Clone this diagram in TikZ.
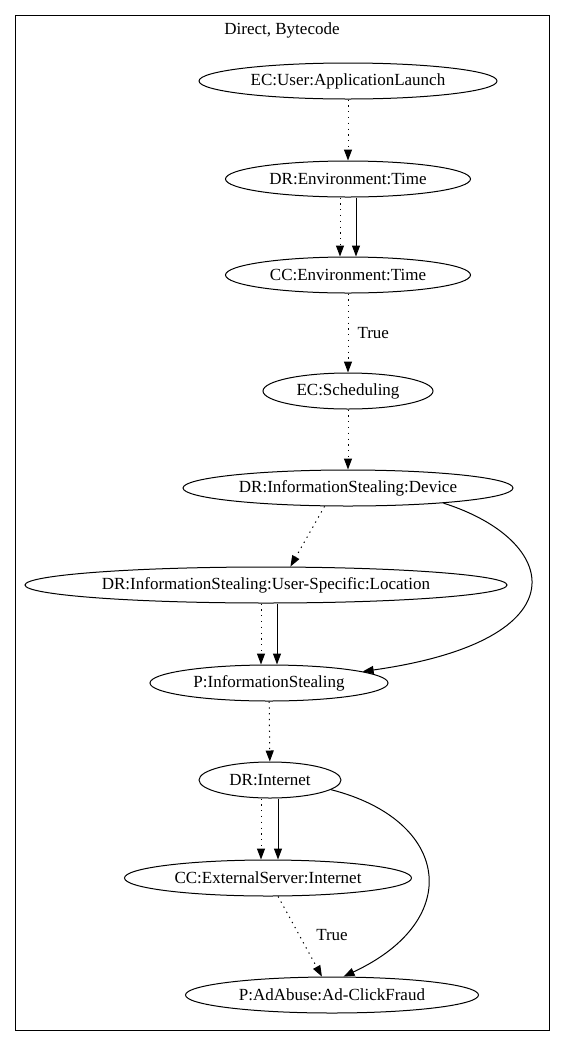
\documentclass[tikz,border=0pt]{standalone}
\usepackage{fontspec}
\setmainfont{Liberation Serif}
\usetikzlibrary{shapes.geometric,arrows.meta}
\tikzset{
  gv/.style={draw, ellipse, inner sep=0pt, minimum height=36pt, line width=1pt, font=\fontsize{17}{19}\selectfont},
  edge/.style={line width=1pt, -{Triangle[length=11pt,width=8pt]}},
  dotedge/.style={edge, dash pattern=on 1.3pt off 4.5pt},
  lbl/.style={font=\fontsize{17}{19}\selectfont, inner sep=0pt}
}
\begin{document}
\begin{tikzpicture}[x=1pt,y=-1pt]
\useasboundingbox (0,0) rectangle (565,1045);
\draw[line width=1pt] (15,15) rectangle (549,1030);
\node[lbl] (title) at (282,30) {Direct, Bytecode};
\node[gv, minimum width=298pt] (n1) at (348,81) {EC:User:ApplicationLaunch};
\node[gv, minimum width=245pt] (n2) at (348,179) {DR:Environment:Time};
\node[gv, minimum width=245pt] (n3) at (348,275) {CC:Environment:Time};
\node[gv, minimum width=170pt] (n4) at (348,391) {EC:Scheduling};
\node[gv, minimum width=330pt] (n5) at (348,488) {DR:InformationStealing:Device};
\node[gv, minimum width=482pt] (n6) at (266,585) {DR:InformationStealing:User-Specific:Location};
\node[gv, minimum width=238pt] (n7) at (269,683) {P:InformationStealing};
\node[gv, minimum width=142pt] (n8) at (270,780) {DR:Internet};
\node[gv, minimum width=287pt] (n9) at (268,878) {CC:ExternalServer:Internet};
\node[gv, minimum width=293pt] (n10) at (332,995) {P:AdAbuse:Ad-ClickFraud};

\draw[dotedge] (n1) -- (n2);
\draw[dotedge] ([xshift=-8pt]n2.south) -- ([xshift=-8pt]n3.north);
\draw[edge] ([xshift=8pt]n2.south) -- ([xshift=8pt]n3.north);
\draw[dotedge] (n3) -- (n4) node[lbl, pos=0.5, right=9pt] (t1) {True};
\draw[dotedge] (n4) -- (n5);
\draw[dotedge] (n5.-142) -- (n6.37);
\draw[edge] (n5.-9) .. controls (560,540) and (585,640) .. (n7.7);
\draw[dotedge] ([xshift=-5pt]n6.south) -- ([xshift=-8pt]n7.north);
\draw[edge] ([xshift=11pt]n6.south) -- ([xshift=8pt]n7.north);
\draw[dotedge] (n7) -- (n8);
\draw[dotedge] ([xshift=-9pt]n8.south) -- ([xshift=-7pt]n9.north);
\draw[edge] ([xshift=8pt]n8.south) -- ([xshift=10pt]n9.north);
\draw[edge] (n8.-9) .. controls (450,820) and (465,920) .. (n10.58);
\draw[dotedge] (n9) -- (n10);
\node[lbl] (t2) at (332,935) {True};
\end{tikzpicture}
\end{document}
